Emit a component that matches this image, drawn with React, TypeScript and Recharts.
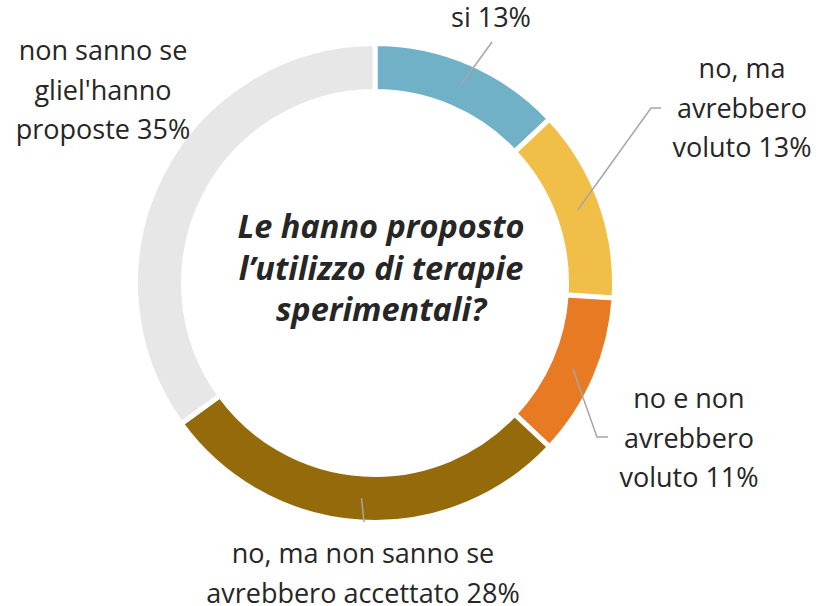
import { Cell, Pie, PieChart } from "recharts";

// categories split in the lines used by the labels, value appended to the last line
const CATEGORY_LINES: string[][] = [
  ["si"],
  ["no, ma", "avrebbero", "voluto"],
  ["no e non", "avrebbero", "voluto"],
  ["no, ma non sanno se", "avrebbero accettato"],
  ["non sanno se", "gliel'hanno", "proposte"],
];

const VALUES = [13, 13, 11, 28, 35];

const COLORS = ["#71B1C8", "#F1BE48", "#E87A24", "#946A0B", "#E6E7E6"];

const TITLE_LINES = [
  "Le hanno proposto",
  "l\u2019utilizzo di terapie",
  "sperimentali?",
];

const data = VALUES.map((value, i) => ({
  name: CATEGORY_LINES[i].join(" "),
  value,
}));

// label placement relative to the pie centre
const LABEL_LAYOUT = [
  { line: [[117, -241]], x: 116, y: -256 },
  { line: [[276, -175], [286, -175]], x: 367, y: -205 },
  { line: [[222, 154], [233, 154]], x: 314, y: 125 },
  { line: [[-11, 239]], x: -12, y: 280 },
  { line: [], x: -272, y: -223 },
];

const RAD = Math.PI / 180;
const LINE_GAP = 39.5;

function Title({ cx, cy }: { cx: number; cy: number }) {
  const offsets = [-45, -3.5, 38];

  return (
    <text
      x={cx + 6}
      y={cy}
      textAnchor="middle"
      fill="#262626"
      fontSize={32.5}
      fontWeight="bold"
      fontStyle="italic"
      fontFamily="'Open Sans', sans-serif"
    >
      {TITLE_LINES.map((t, i) => (
        <tspan key={i} x={cx + 6} y={cy + offsets[i]}>
          {t}
        </tspan>
      ))}
    </text>
  );
}

function renderLabel(props: any) {
  const { cx, cy, midAngle, innerRadius, outerRadius, index, value } = props;
  const layout = LABEL_LAYOUT[index];
  const r = (innerRadius + outerRadius) / 2;
  const sx = cx + r * Math.cos(-midAngle * RAD);
  const sy = cy + r * Math.sin(-midAngle * RAD);

  const lines = CATEGORY_LINES[index].slice();
  lines[lines.length - 1] = `${lines[lines.length - 1]} ${value}%`;

  const points = [[sx, sy], ...layout.line.map(([dx, dy]) => [cx + dx, cy + dy])];

  return (
    <g key={`label-${index}`}>
      {/* the centre question is drawn once, with the first label */}
      {index === 0 && <Title cx={cx} cy={cy} />}
      {layout.line.length > 0 && (
        <polyline
          points={points.map((p) => p.join(",")).join(" ")}
          fill="none"
          stroke="#A6A6A6"
          strokeWidth={1.5}
        />
      )}
      <text
        x={cx + layout.x}
        y={cy + layout.y}
        textAnchor="middle"
        fill="#262626"
        fontSize={27}
        fontFamily="'Open Sans', sans-serif"
      >
        {lines.map((t, i) => (
          <tspan key={i} x={cx + layout.x} y={cy + layout.y + i * LINE_GAP}>
            {t}
          </tspan>
        ))}
      </text>
    </g>
  );
}

export default function App() {
  return (
    <div
      style={{
        position: "absolute",
        left: 0,
        top: 0,
        width: 825,
        height: 606,
        background: "#ffffff",
      }}
    >
      <PieChart
        width={825}
        height={606}
        margin={{ top: 0, right: 0, bottom: 0, left: 0 }}
      >
        <Pie
          data={data}
          dataKey="value"
          nameKey="name"
          cx={375}
          cy={283}
          innerRadius={191.5}
          outerRadius={239.5}
          startAngle={90}
          endAngle={-270}
          stroke="#ffffff"
          strokeWidth={5}
          label={renderLabel}
          labelLine={false}
          isAnimationActive={false}
        >
          {data.map((entry, i) => (
            <Cell key={entry.name} fill={COLORS[i]} />
          ))}
        </Pie>
      </PieChart>
    </div>
  );
}
